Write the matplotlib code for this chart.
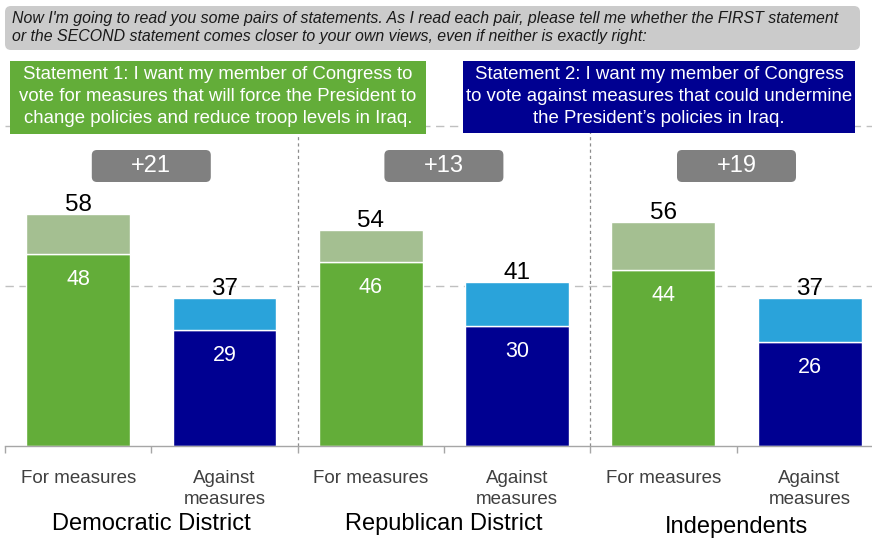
import matplotlib
matplotlib.use("Agg")
import matplotlib.pyplot as plt
import matplotlib.transforms as mtransforms
from matplotlib.patches import FancyBboxPatch

plt.rcParams['font.family'] = ['Liberation Sans', 'DejaVu Sans']

# Survey results (percent)
groups = ["Democratic District", "Republican District", "Independents"]
bar_labels = ["For measures", "Against\nmeasures"]
for_total = [58, 54, 56]
for_strong = [48, 46, 44]
against_total = [37, 41, 37]
against_strong = [29, 30, 26]

question = ("Now I'm going to read you some pairs of statements. As I read each pair, please tell me whether the FIRST statement\n"
            "or the SECOND statement comes closer to your own views, even if neither is exactly right:")
statement1 = ("Statement 1: I want my member of Congress to\n"
              "vote for measures that will force the President to\n"
              "change policies and reduce troop levels in Iraq.")
statement2 = ("Statement 2: I want my member of Congress\n"
              "to vote against measures that could undermine\n"
              "the President\u2019s policies in Iraq.")

GREEN = "#63ad39"
LIGHT_GREEN = "#a4bf91"
NAVY = "#000091"
BLUE = "#2aa3da"
GREY = "#808080"

W, H = 872, 540
fig = plt.figure(figsize=(W / 100, H / 100), dpi=100)

# pixel coordinates measured from the top-left corner of the figure
pix = (mtransforms.Affine2D().scale(1, -1).translate(0, H)
       + mtransforms.Affine2D().scale(1 / W, 1 / H) + fig.transFigure)

x0_px, base_px, top_px = 5, 446, 46
step_px = 146.3
ax = fig.add_axes([x0_px / W, (H - base_px) / H, (W - x0_px) / W, (base_px - top_px) / H])
ax.set_ylim(0, 100)
ax.set_xlim(-0.5, -0.5 + (W - x0_px) / step_px)
for s in ["top", "right", "left"]:
    ax.spines[s].set_visible(False)
ax.spines["bottom"].set_color("#a6a6a6")
ax.spines["bottom"].set_linewidth(1.0)
ax.set_yticks([])

# dashed reference lines
for yv in (40, 80):
    ax.axhline(yv, color="#c0c0c0", lw=1.0, ls=(0, (6, 4)), zorder=0)

# dotted separators between groups
for xv in (1.5, 3.5):
    ax.plot([xv, xv], [0, 82], color="#8c8c8c", lw=0.9, ls=(0, (2.5, 2.5)), zorder=0)

bw = 0.71
for i in range(len(groups)):
    xf, xa = 2 * i, 2 * i + 1
    # "for" bar
    ax.bar(xf, for_strong[i], width=bw, color=GREEN, edgecolor="white", linewidth=1.0, zorder=2)
    ax.bar(xf, for_total[i] - for_strong[i], bottom=for_strong[i], width=bw,
           color=LIGHT_GREEN, edgecolor="white", linewidth=1.0, zorder=2)
    # "against" bar
    ax.bar(xa, against_strong[i], width=bw, color=NAVY, edgecolor="white", linewidth=1.0, zorder=2)
    ax.bar(xa, against_total[i] - against_strong[i], bottom=against_strong[i], width=bw,
           color=BLUE, edgecolor="white", linewidth=1.0, zorder=2)

    for xv, tot, strong in ((xf, for_total[i], for_strong[i]),
                            (xa, against_total[i], against_strong[i])):
        ax.annotate(f"{tot}", (xv, tot), xytext=(0, 2), textcoords="offset points",
                    ha="center", va="baseline", fontsize=17.5, color="black", zorder=4)
        ax.annotate(f"{strong}", (xv, strong), xytext=(0, -18.5), textcoords="offset points",
                    ha="center", va="center", fontsize=15.5, color="white", zorder=4)

    # margin badge
    gc = 2 * i + 0.5
    margin = for_total[i] - against_total[i]
    bwid = 119 / step_px
    bh = 8
    badge = FancyBboxPatch((gc - bwid / 2, 70 - bh / 2), bwid, bh,
                           boxstyle="round,pad=0,rounding_size=0.035",
                           mutation_aspect=step_px / 4,
                           facecolor=GREY, edgecolor="none", zorder=3, clip_on=False)
    ax.add_patch(badge)
    ax.text(gc, 70, f"+{margin}", ha="center", va="center", fontsize=17,
            color="white", zorder=4)

# tick marks at category boundaries, labels at bar centres
ax.set_xticks([b - 0.5 for b in range(6)], minor=True)
ax.tick_params(axis="x", which="minor", direction="out", length=5, width=1, color="#a6a6a6")
ax.set_xticks(range(6))
ax.set_xticklabels(bar_labels * 3, fontsize=13.5, color="#404040", linespacing=1.35)
ax.tick_params(axis="x", which="major", length=0, pad=17)

# group names
bt = mtransforms.blended_transform_factory(ax.transData, pix)
for gx, gy, name in ((0.5, 524, groups[0]), (2.5, 524, groups[1]), (4.5, 527, groups[2])):
    ax.text(gx, gy, name, transform=bt, ha="center", va="center", fontsize=17,
            color="black", clip_on=False)

# question banner
fig.patches.append(FancyBboxPatch((5, 6), 855, 44, boxstyle="round,pad=0,rounding_size=6",
                                  facecolor="#cbcbcb", edgecolor="none", transform=pix,
                                  figure=fig, zorder=1))
fig.text(12, 28, question, transform=pix, ha="left", va="center", fontsize=11.4,
         style="italic", color="#1a1a1a", linespacing=1.25, zorder=2)

# statement boxes
fig.patches.append(FancyBboxPatch((10, 61), 416, 73, boxstyle="square,pad=0",
                                  facecolor=GREEN, edgecolor="none", transform=pix,
                                  figure=fig, zorder=5))
fig.text(218, 96.5, statement1, transform=pix, ha="center", va="center", fontsize=13.4,
         color="white", linespacing=1.4, zorder=6)
fig.patches.append(FancyBboxPatch((463, 61), 392, 72, boxstyle="square,pad=0",
                                  facecolor=NAVY, edgecolor="none", transform=pix,
                                  figure=fig, zorder=5))
fig.text(659, 96.5, statement2, transform=pix, ha="center", va="center", fontsize=13.4,
         color="white", linespacing=1.4, zorder=6)

fig.savefig("out.png", dpi=100)
